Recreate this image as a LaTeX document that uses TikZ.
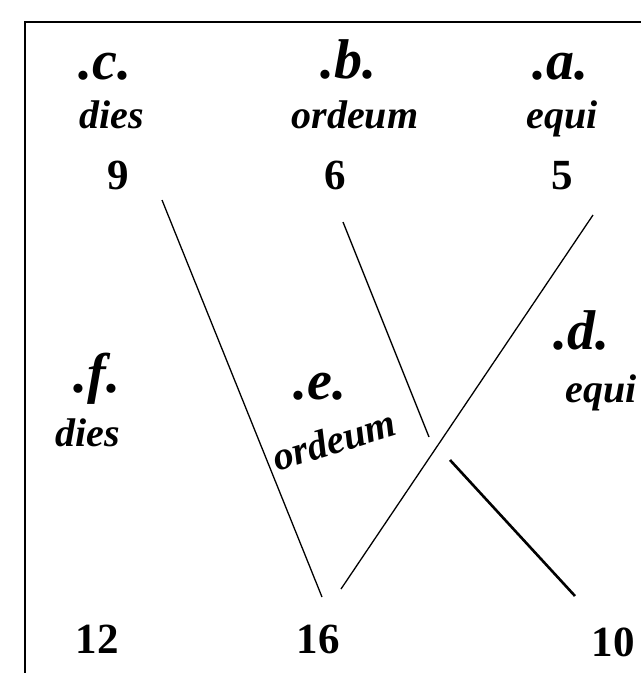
\documentclass[tikz,border=0pt]{standalone}
\usepackage{fontspec}
\setmainfont{Liberation Serif}
\usetikzlibrary{positioning}

\begin{document}
\begin{tikzpicture}[x=1pt, y=-1pt,
  tag/.style={anchor=base, inner sep=0pt, font=\fontsize{56}{56}\selectfont\bfseries\itshape},
  word/.style={anchor=base, inner sep=0pt, font=\fontsize{40}{40}\selectfont\bfseries\itshape},
  num/.style={anchor=base, inner sep=0pt, font=\fontsize{43}{43}\selectfont\bfseries},
  frame/.style={line width=2.2pt},
  ln/.style={line width=1.3pt},
  lnheavy/.style={line width=2.6pt}
]
  \useasboundingbox (0,0) rectangle (641,673);
  \draw[frame] (24,22) -- (641,22);
  \draw[frame] (25,21) -- (25,673);

  % upper row
  \node[tag]  (c)    at (105,79)  {.c.};
  \node[word] (cw)   at (112,128) {dies};
  \node[num]  (n9)   at (118,189) {9};
  \node[tag]  (b)    at (348,78)  {.b.};
  \node[word] (bw)   at (355,128) {ordeum};
  \node[num]  (n6)   at (335,189) {6};
  \node[tag]  (a)    at (560,79)  {.a.};
  \node[word] (aw)   at (562,128) {equi};
  \node[num]  (n5)   at (562,189) {5};

  % middle row
  \node[tag]  (f)    at (97,392)  {.f.};
  \node[word] (fw)   at (88,446)  {dies};
  \node[tag]  (e)    at (320,399) {.e.};
  \node[word,anchor=center,rotate=17] (ew) at (334,440) {ordeum};
  \node[tag]  (d)    at (581,349) {.d.};
  \node[word] (dw)   at (601,402) {equi};

  % lower row
  \node[num]  (n12)  at (97,653)  {12};
  \node[num]  (n16)  at (318,653) {16};
  \node[num]  (n10)  at (613,656) {10};

  % cross lines
  \coordinate (p9)   at (162,200);
  \coordinate (p16a) at (322,597);
  \coordinate (p6)   at (343,222);
  \coordinate (pm)   at (429,437);
  \coordinate (p5)   at (593,215);
  \coordinate (p16b) at (341,589);
  \coordinate (pk)   at (450,460);
  \coordinate (p10)  at (575,596);
  \draw[ln] (p9) -- (p16a);
  \draw[ln] (p6) -- (pm);
  \draw[ln] (p5) -- (p16b);
  \draw[lnheavy] (pk) -- (p10);
\end{tikzpicture}
\end{document}
